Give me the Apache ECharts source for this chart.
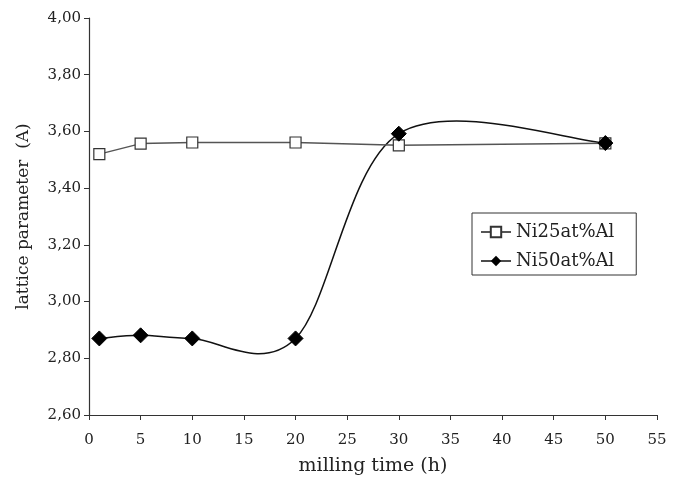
<!DOCTYPE html>
<html><head><meta charset="utf-8">
<script src="https://cdn.jsdelivr.net/npm/echarts@6/dist/echarts.min.js"></script>
<style>html,body{margin:0;padding:0;background:#fff}#c{width:682px;height:481px}</style>
</head><body><div id="c"></div>
<script>
const millingTime = [1, 5, 10, 20, 30, 50];
const ni25 = [3.52, 3.557, 3.561, 3.561, 3.551, 3.558];
const ni50 = [2.870, 2.881, 2.870, 2.870, 3.592, 3.559];
const seriesNames = ['Ni25at%Al', 'Ni50at%Al'];
const yTicks = {min: 2.6, max: 4.0, interval: 0.2};
const xTicks = {min: 0, max: 55, interval: 5};

const font = 'DejaVu Serif, serif';
const txt = '#222';
const chart = echarts.init(document.getElementById('c'));

// Excel-style (Catmull-Rom) smoothed curve through the Ni50 points, drawn via the axis scales
function renderSmooth(params, api) {
  const i = params.dataIndex;
  const n = millingTime.length;
  if (i >= n - 1) return null;
  const k2 = k => Math.max(0, Math.min(n - 1, k));
  const c = k => api.coord([millingTime[k2(k)], ni50[k2(k)]]);
  const p0 = c(i - 1), p1 = c(i), p2 = c(i + 1), p3 = c(i + 2);
  return {
    type: 'bezierCurve',
    shape: {
      x1: p1[0], y1: p1[1], x2: p2[0], y2: p2[1],
      cpx1: p1[0] + (p2[0] - p0[0]) / 6, cpy1: p1[1] + (p2[1] - p0[1]) / 6,
      cpx2: p2[0] - (p3[0] - p1[0]) / 6, cpy2: p2[1] - (p3[1] - p1[1]) / 6
    },
    style: {stroke: '#111', lineWidth: 1.5, fill: null}
  };
}

chart.setOption({
  animation: false,
  backgroundColor: '#fff',
  grid: {left: 89, right: 25, top: 18, bottom: 65, containLabel: false},
  legend: {
    orient: 'vertical', left: 472, top: 213,
    borderColor: '#333', borderWidth: 1,
    padding: [10, 22, 5, 8], itemGap: 11,
    itemWidth: 30, itemHeight: 13,
    textStyle: {fontFamily: font, fontSize: 18, color: txt},
    data: [
      {name: seriesNames[0]},
      {name: seriesNames[1], lineStyle: {opacity: 1, color: '#111', width: 1.5}}
    ]
  },
  xAxis: {
    type: 'value', min: xTicks.min, max: xTicks.max, interval: xTicks.interval,
    name: 'milling time (h)', nameLocation: 'middle', nameGap: 42,
    nameTextStyle: {fontFamily: font, fontSize: 19, color: txt},
    axisLine: {lineStyle: {color: '#333', width: 1.2}},
    axisTick: {length: 5, lineStyle: {color: '#333'}},
    axisLabel: {fontFamily: font, fontSize: 15, color: txt, margin: 18},
    splitLine: {show: false}
  },
  yAxis: {
    type: 'value', min: yTicks.min, max: yTicks.max, interval: yTicks.interval,
    name: 'lattice parameter  (A)', nameLocation: 'middle', nameGap: 57,
    nameTextStyle: {fontFamily: font, fontSize: 17, color: txt},
    axisLine: {show: true, lineStyle: {color: '#333', width: 1.2}},
    axisTick: {show: true, length: 5, lineStyle: {color: '#333'}},
    axisLabel: {fontFamily: font, fontSize: 15, color: txt, margin: 8,
      formatter: v => v.toFixed(2).replace('.', ',')},
    splitLine: {show: false}
  },
  series: [
    {
      name: seriesNames[0], type: 'line',
      data: millingTime.map((x, i) => [x, ni25[i]]),
      symbol: 'rect', symbolSize: 11,
      itemStyle: {color: '#fff', borderColor: '#333', borderWidth: 1.2},
      lineStyle: {color: '#555', width: 1.5},
      z: 3
    },
    {
      name: 'Ni50 curve', type: 'custom',
      data: millingTime.map((x, i) => [x, ni50[i]]),
      renderItem: renderSmooth,
      z: 2, silent: true
    },
    {
      name: seriesNames[1], type: 'line',
      data: millingTime.map((x, i) => [x, ni50[i]]),
      symbol: 'diamond', symbolSize: 15,
      itemStyle: {color: '#000', borderColor: '#000'},
      lineStyle: {opacity: 0, color: '#111', width: 1.5},
      z: 4
    }
  ]
});
</script></body></html>
